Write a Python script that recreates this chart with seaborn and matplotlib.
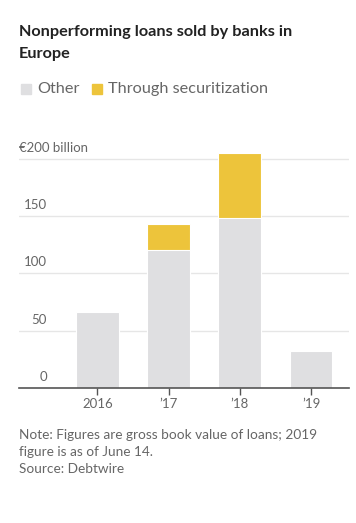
import pandas as pd
import seaborn as sns
import matplotlib.pyplot as plt
import matplotlib.transforms as mtrans
from matplotlib.patches import Rectangle

years = ['2016', '\u201917', '\u201918', '\u201919']
other = [66, 120, 148, 32]
securitization = [0, 23, 57, 0]
ytick_vals = [0, 50, 100, 150, 200]
ytick_labels = ['0', '50', '100', '150', '\u20ac200 billion']

gray = '#dfdfe1'
yellow = '#edc43b'
txt = '#666666'

df = pd.DataFrame({'year': years, 'other': other, 'sec': securitization})
df['total'] = df['other'] + df['sec']

sns.set_theme(style='white')
plt.rcParams['font.family'] = ['Lato', 'DejaVu Sans']

fig = plt.figure(figsize=(3.56, 5.23), dpi=100)
ax = fig.add_axes([0.0534, 0.2581, 0.9266, 0.4602])

sns.barplot(data=df, x='year', y='total', color=yellow, width=0.6,
            saturation=1, edgecolor='white', linewidth=0.8, ax=ax, zorder=3)
sns.barplot(data=df, x='year', y='other', color=gray, width=0.6,
            saturation=1, edgecolor='white', linewidth=0.8, ax=ax, zorder=3)

ax.set_xlim(-1.1, 3.53)
ax.set_ylim(0, 210)
ax.set_xlabel('')
ax.set_ylabel('')
ax.set_yticks([])
for s in ['top', 'right', 'left']:
    ax.spines[s].set_visible(False)
ax.spines['bottom'].set_color('#555555')
ax.spines['bottom'].set_linewidth(1.2)
ax.spines['bottom'].set_zorder(4)

# gridlines with labels sitting above them
tr = mtrans.blended_transform_factory(ax.transAxes, ax.transData)
for v, lab in zip(ytick_vals, ytick_labels):
    if v > 0:
        ax.axhline(v, color='#e6e6e6', lw=1, zorder=1)
    if v == 200:
        ax.text(0.0, v + 4.5, lab, transform=tr, ha='left', va='bottom',
                fontsize=9.5, color=txt)
    else:
        ax.text(0.085, v + 4.5, lab, transform=tr, ha='right', va='bottom',
                fontsize=9.5, color=txt)

ax.tick_params(axis='x', bottom=True, length=5, width=1, color='#555555',
               labelsize=9.5, labelcolor=txt, pad=2)

# title
fig.text(19 / 356, 1 - 25 / 523, 'Nonperforming loans sold by banks in\nEurope',
         ha='left', va='top', fontsize=11.7, fontweight='bold', color='#222222',
         linespacing=1.75)

# legend
ly = 1 - 89 / 523
fig.patches.append(Rectangle((21 / 356, ly - 5 / 523), 10 / 356, 10 / 523,
                             transform=fig.transFigure, color=gray))
fig.text(37 / 356, ly, 'Other', ha='left', va='center', fontsize=11.7, color=txt)
fig.patches.append(Rectangle((92 / 356, ly - 5 / 523), 10 / 356, 10 / 523,
                             transform=fig.transFigure, color=yellow))
fig.text(108 / 356, ly, 'Through securitization', ha='left', va='center',
         fontsize=11.7, color=txt)

# notes
fig.text(19 / 356, 1 - 429 / 523,
         'Note: Figures are gross book value of loans; 2019\nfigure is as of June 14.\nSource: Debtwire',
         ha='left', va='top', fontsize=9.8, color=txt, linespacing=1.5)

fig.savefig('out.png', dpi=100)
